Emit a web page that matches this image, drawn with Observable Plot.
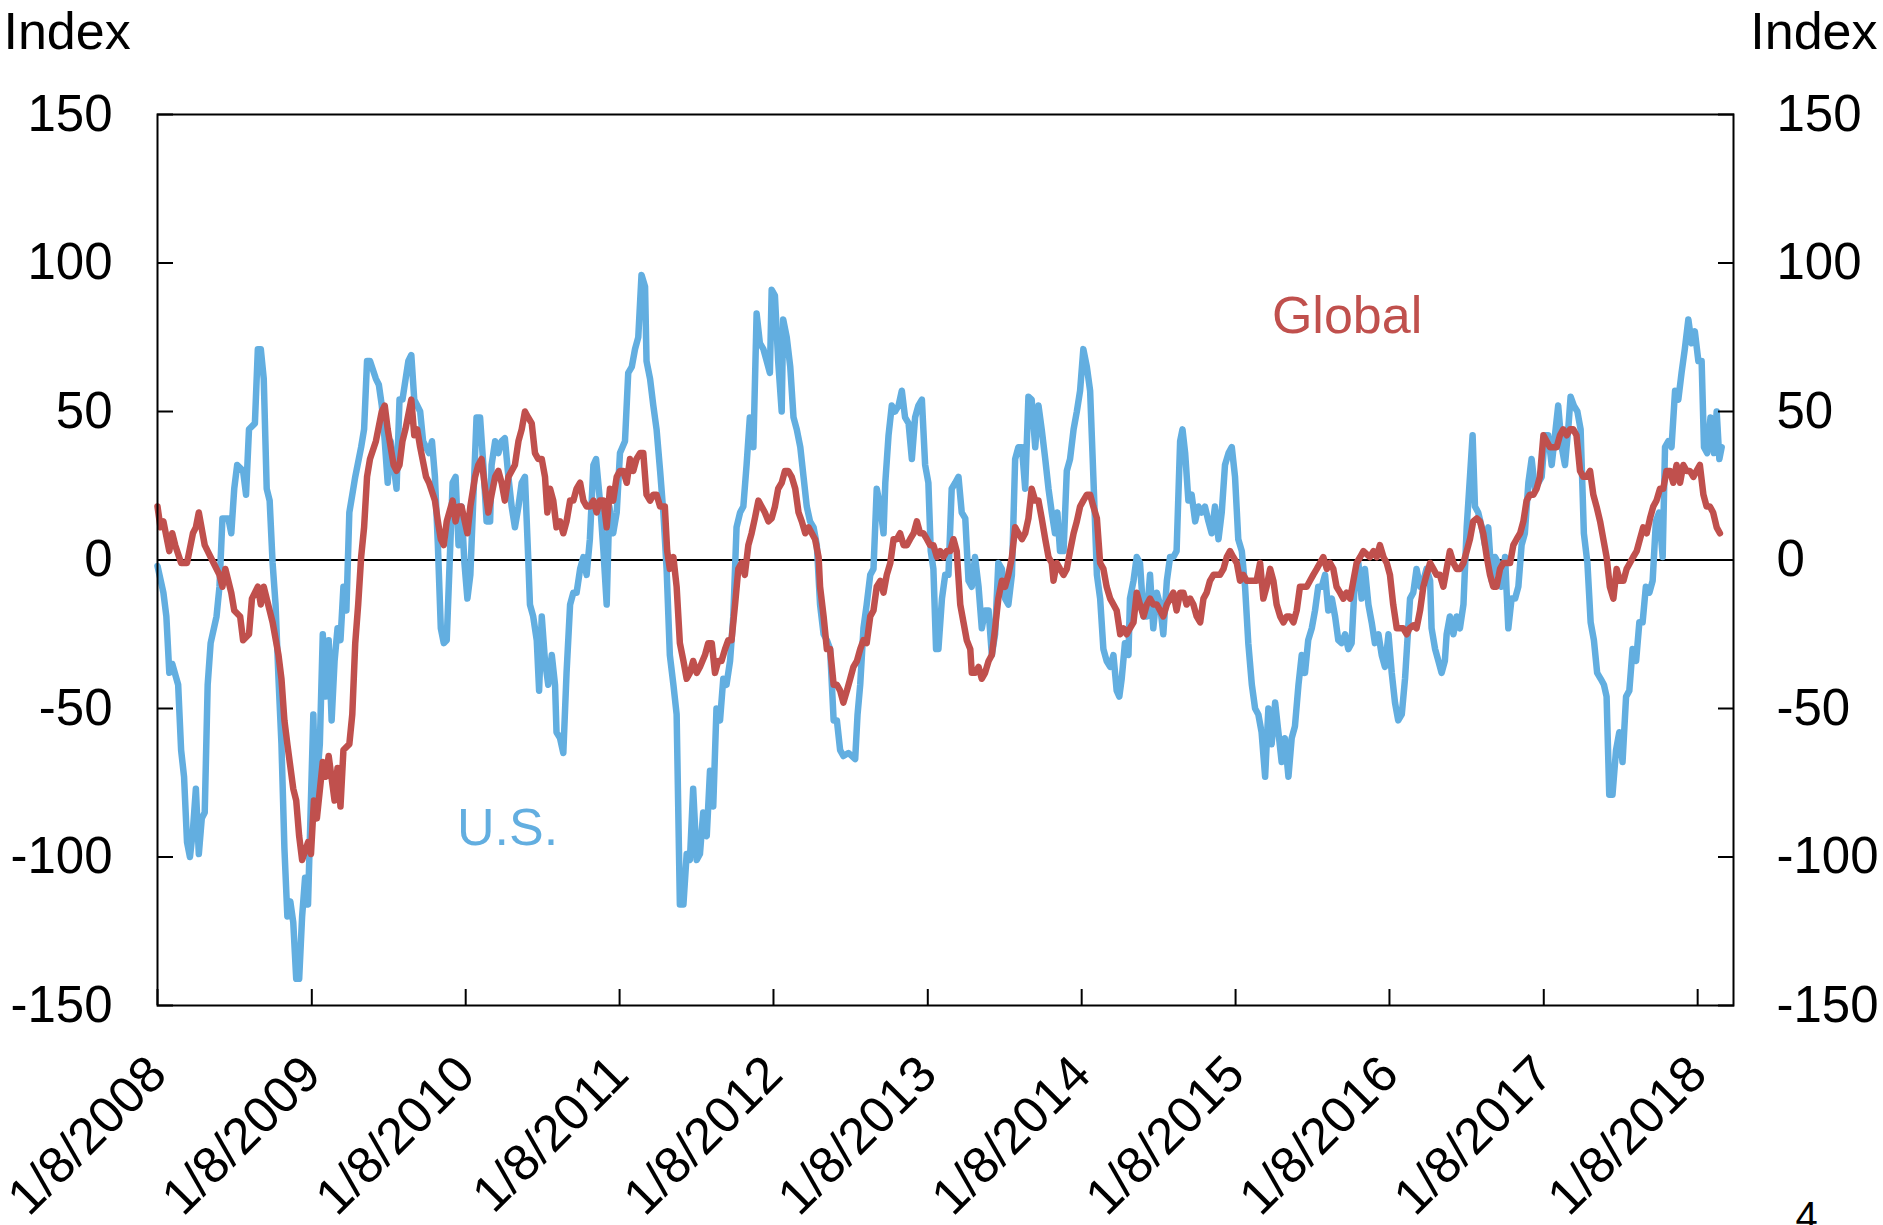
<!DOCTYPE html>
<html><head><meta charset="utf-8">
<script src="https://cdn.jsdelivr.net/npm/d3@7"></script>
<script src="https://cdn.jsdelivr.net/npm/@observablehq/plot@0.6"></script>
<style>html,body{margin:0;padding:0;background:#fff}svg{display:block}</style>
</head><body><div id="chart"></div>
<script>
// Weekly series: [weeks since 1/8/2008, index value]
const startDate = "2008-01-08";
const endDate = "2018-04-03";
const usPoints = [[0,-2],[2,-11],[3,-19],[4,-38],[5,-35],[7,-42],[8,-64],[9,-73],[10,-95],[11,-100],[12,-91],[13,-77],[14,-99],[15,-87],[16,-85],[17,-42],[18,-28],[20,-19],[21,-9],[22,14],[24,14],[25,9],[26,24],[27,32],[29,30],[30,22],[31,44],[33,46],[34,71],[35,71],[36,61],[37,24],[38,20],[39,-1],[40,-15],[41,-40],[42,-62],[43,-97],[44,-120],[45,-115],[46,-122],[47,-141],[48,-141],[49,-120],[50,-107],[51,-116],[52.8,-52],[53.5,-81],[55,-62],[56,-25],[57,-46],[58,-27],[59,-54],[60,-34],[61,-23],[62,-27],[63,-9],[64,-17],[65,16],[66,22],[67,28],[69,38],[70,44],[71,67],[72,67],[74,61],[75,59],[76,52],[77,40],[78,26],[79,40],[81,24],[82,54],[83,54],[85,67],[86,69],[87,54],[88,52],[89,50],[90,40],[92,36],[93,40],[94,28],[95,5],[96,-23],[97,-28],[98,-27],[100,26],[101,28],[102,5],[103,18],[104,-1],[105,-13],[106,-5],
[108.1,48],[109.3,48],[110.4,32],[111.5,13],[112.7,13],[113.2,32],[114.4,40],[115.5,36],[116.6,40],[117.7,41],[118.9,28],[120,18],[121.1,11],[122.3,18],[123.4,26],[124.5,28],[125.6,1],[126.2,-15],[127.3,-19],[128.5,-27],[129.3,-44],[130.2,-19],[131.3,-34],[132.4,-42],[133.6,-32],[134.7,-42],[135.2,-58],[136.4,-60],[137.5,-65],[138.6,-38],[139.8,-15],[140.9,-11],[142,-11],[143.2,-3],[144.3,1],[145.4,-5],[146.5,7],[147.7,32],[148.6,34],[149.9,20],[151.1,3],[152.2,-15],[153.1,18],[154.4,9],[155.6,16],[156.7,36],[158.4,40],[159.5,63],[160.7,65],[161.8,71],[162.9,75],[164,96],[165.2,92],[165.7,67],[166.9,61],[168,52],[169.1,44],[170.3,30],[171.4,16],[172.5,-3],[173.6,-32],[174.8,-42],[175.9,-52],[177,-116],[178.2,-116],[179.3,-99],[180.4,-101],[181.5,-77],[182.7,-101],[183.8,-99],[184.9,-85],[186.1,-93],[187.2,-71],[188.3,-83],[189.4,-50],[190.6,-54],[191.7,-40],[192.8,-42],[194,-34],[195.1,-19],[196.2,11],[197.4,16],[198.5,18],[199.6,32],[200.7,48],[201.9,38],[203,83],[204.1,73],[205.3,71],[206.4,67],[207.5,63],[208.1,91],[209.2,89],[210.3,67],[211.5,50],[212,81],[213.2,75],
[214.4,65],[215.5,48],[216.6,44],[217.8,38],[218.9,28],[220,18],[221.1,13],[222.3,11],[223.4,5],[224.5,-15],[225.7,-25],[226.8,-27],[227.9,-30],[229.1,-54],[230.2,-54],[231.3,-64],[232.4,-66],[234.1,-65],[235.3,-66],[236.4,-67],[237.2,-52],[238.1,-42],[239.2,-23],[240.3,-15],[241.5,-5],[242.6,-3],[243.7,24],[244.9,18],[246,9],[246.6,26],[247.7,42],[248.8,52],[249.9,50],[251.1,52],[252.2,57],[253.3,48],[254.5,46],[255.6,34],[256.7,48],[257.8,52],[259,54],[260.1,32],[261.2,26],[262,3],[262.9,-3],[263.8,-30],[264.6,-30],[265.8,-13],[266.9,-5],[268,-5],[269.1,24],[270.3,26],[271.4,28],[272.5,16],[273.7,14],[274.8,-7],[275.9,-9],[277,1],[278.2,-9],[279.3,-23],[280.4,-17],[281.6,-17],[282.7,-32],[283.8,-25],[284.9,-1],[286.1,-3],[287.2,-13],[288.3,-15],[289.5,-5],[290.6,34],[291.7,38],[292.9,38],[294,24],[295.1,55],[296.2,54],[297.4,38],[298.5,52],[299.6,44],[300.8,34],[301.9,24],[303,16],[304.1,9],[304.9,16],[305.8,3],[307,3],[308.1,30],[309.2,34],[310.4,44],[311.5,50],[312.6,57],[313.7,71],[314.9,65],[316,57],[317.1,28],[318.3,-5],
[319.4,-13],[320.5,-30],[321.6,-34],[322.8,-36],[323.9,-32],[325,-44],[325.9,-46],[326.7,-40],[327.8,-28],[329,-32],[329.5,-13],[330.7,-7],[331.8,1],[332.9,-1],[334.1,-19],[335.2,-19],[336.3,-5],[337.4,-23],[338.6,-11],[339.7,-15],[340.8,-25],[342,-7],[343.1,1],[344.2,1],[345.3,3],[346.5,40],[347.3,44],[348.2,36],[349.3,20],[350.4,22],[351.6,13],[352.7,18],[353.8,16],[354.9,18],[356.1,13],[357.2,9],[358.3,18],[359.5,7],[360.6,16],[361.7,32],[362.9,36],[364,38],[365.1,28],[366.2,7],[367.4,3],[368.5,-9],[369.6,-28],[370.8,-42],[371.9,-50],[373,-52],[374.1,-58],[375.3,-73],[376.4,-50],[377.5,-62],[378.7,-48],[379.8,-58],[380.9,-68],[382,-60],[383.2,-73],[384.3,-60],[385.4,-56],[386.6,-42],[387.7,-32],[388.8,-38],[389.9,-27],[391.1,-23],[392.2,-17],[393.3,-9],[394.5,-9],[395.6,-5],[396.7,-17],[397.9,-13],[399,-19],[400.1,-27],[401.2,-28],[402.4,-25],[403.5,-30],[404.6,-28],[405.8,-5],[406.9,-1],[408,-13],[409.1,-3],[410.3,-15],[411.4,-21],[412.5,-28],[413.7,-25],[414.8,-32],[415.9,-36],[417.1,-25],[418.2,-38],[419.3,-48],[420.4,-54],[421.6,-52],[422.7,-40],
[424.4,-13],[425.5,-11],[426.6,-3],[427.8,-9],[428.9,-7],[430,-3],[431.2,-7],[431.7,-23],[432.9,-30],[434,-34],[435.1,-38],[436.2,-34],[436.8,-25],[437.9,-19],[439.1,-25],[440.2,-19],[441.3,-23],[442.5,-15],[443.6,11],[444.7,28],[445.6,42],[446.4,18],[447.5,16],[448.7,11],[449.8,5],[450.9,11],[452.1,-7],[453.2,1],[454.3,-1],[455.4,-9],[456.6,1],[457.7,-23],[458.8,-13],[460,-13],[461.1,-9],[462.2,5],[463.3,9],[464.5,26],[465.6,34],[466.7,24],[467.9,26],[469,28],[470.1,42],[471.2,42],[472.4,32],[473.5,42],[474.6,52],[475.8,38],[476.9,32],[478,44],[478.8,55],[479.9,52],[481.1,50],[482.2,44],[483.3,9],[484.5,-1],[485.6,-21],[486.7,-27],[487.8,-38],[489,-40],[490.1,-42],[491,-46],[491.9,-79],[493,-79],[494.2,-64],[495.3,-58],[496.4,-68],[497.6,-46],[498.7,-44],[499.8,-30],[501,-34],[502.1,-21],[503.2,-21],[504.3,-9],[505.5,-11],[506.6,-7],[507.7,13],[508.8,16],[510,1],[510.8,38],[511.9,40],[513,38],[514.2,57],[515.3,54],[516.4,63],[517.5,71],[518.7,81],[519.8,73],[520.9,77],[522.1,67],[523.2,67],[524,38],[525.1,36],[526.2,48],[527.4,36],[528.3,50],[529.2,34],[530,38]];

const globalPoints = [[0,18],[1,11],[2,13],[4,3],[5,9],[6,5],[8,-1],[10,-1],[12,9],[13,11],[14,16],[16,5],[17,3],[19,-1],[21,-5],[22,-9],[23,-3],[25,-11],[26,-17],[28,-19],[29,-27],[31,-25],[32,-13],[34,-9],[35,-15],[36,-9],[38,-17],[39,-21],[41,-32],[42,-40],[43,-54],[44,-62],[46,-77],[47,-81],[48,-93],[49,-101],[51,-95],[52,-99],[53,-81],[54,-87],[56,-68],[57,-73],[58,-66],[60,-81],[61,-70],[62,-83],[63,-64],[65,-62],[66,-52],[67,-28],[68,-15],[69,1],[70,11],[71,28],[72,34],[74,40],[76,50],[77,52],[78,44],[80,32],[81,30],[82,32],[83,40],[84,44],[86,54],[87,42],[88,44],[89,38],[91,28],[92,26],[94,20],[95,13],[96,7],[97,5],[98,13],[100,20],[101,13],[102,18],[103,18],[105,9],[106,18],
[107.6,28],[108.7,32],[109.8,34],[111,24],[112.1,16],[113.2,22],[114.4,28],[115.5,30],[116.6,26],[117.7,20],[118.9,28],[120,30],[121.1,32],[122.3,40],[123.4,44],[124.5,50],[125.6,48],[126.8,46],[127.9,36],[129,34],[130.2,34],[131.3,28],[132.1,16],[133,24],[134.1,20],[135.2,11],[136.4,13],[137.5,9],[138.6,13],[139.8,20],[140.9,20],[142,24],[143.2,26],[144.3,20],[145.4,18],[146.5,18],[147.7,20],[148.8,16],[149.9,20],[151.1,20],[152.2,11],[153.3,24],[154.4,20],[155.6,28],[156.7,30],[157.8,30],[159,26],[160.1,34],[161.2,30],[162.3,34],[163.5,36],[164.6,36],[165.7,22],[166.9,20],[168,22],[169.1,22],[170.3,18],[171.9,18],[172.7,3],[173.6,-3],[174.8,1],[175.9,-9],[177,-28],[178.2,-34],[179.3,-40],[180.4,-38],[181.5,-34],[182.7,-38],[183.8,-36],[185.5,-32],[186.6,-28],[187.8,-28],[188.9,-38],[190,-34],[191.1,-34],[192.3,-30],[193.4,-27],[194.5,-27],[195.7,-15],[196.8,-3],[197.9,-1],[199,-5],[200.2,5],[201.3,9],[202.4,14],[203.6,20],[204.7,18],[205.8,16],[207,13],[208.1,14],[209.2,18],[210.3,24],[211.5,26],[212.6,30],[213.7,30],
[214.9,28],[216.1,24],[217.2,16],[218.3,13],[219.5,9],[220.6,11],[221.7,9],[222.8,7],[224,1],[224.5,-9],[225.7,-19],[226.8,-30],[227.9,-30],[229.1,-42],[230.2,-42],[231.3,-44],[232.4,-48],[233.6,-44],[234.7,-40],[235.8,-36],[237,-34],[238.1,-30],[239.2,-27],[240.3,-28],[241.5,-19],[242.6,-17],[243.7,-9],[244.9,-7],[246,-11],[247.1,-5],[248.3,-1],[249.4,7],[250.5,7],[251.6,9],[252.8,5],[253.9,5],[255,7],[256.2,9],[257.3,13],[258.4,9],[259.5,9],[260.7,7],[261.8,5],[262.9,5],[264.1,1],[265.2,3],[266.3,1],[267.4,3],[268.6,3],[269.7,7],[270.8,3],[272,-15],[273.1,-21],[274.2,-27],[275.4,-30],[275.9,-38],[277,-38],[278.2,-36],[279.3,-40],[280.4,-38],[281.6,-34],[282.7,-32],[283.8,-23],[284.9,-13],[286.1,-7],[287.2,-9],[288.3,-5],[289.5,1],[290.6,11],[291.7,9],[292.9,7],[294,9],[295.1,14],[296.2,24],[297.4,20],[298.5,20],[299.6,14],[300.8,7],[301.9,1],[303,-1],[303.6,-7],[304.7,-1],[305.8,-3],[307,-5],[308.1,-3],[309.2,3],[310.4,9],[311.5,13],[312.6,18],[313.7,20],[314.9,22],[316,22],[317.1,18],[318.3,14],
[319.4,-1],[320.5,-3],[321.6,-9],[322.8,-13],[323.9,-15],[325,-17],[326.2,-25],[327.3,-23],[328.4,-25],[329.5,-23],[330.7,-21],[331.8,-11],[332.9,-15],[334.1,-19],[335.2,-15],[336.3,-13],[337.4,-15],[338.6,-15],[339.7,-17],[340.8,-19],[342,-15],[343.1,-13],[344.2,-11],[345.3,-17],[346.5,-11],[347.6,-11],[348.7,-15],[349.9,-13],[351,-15],[352.1,-19],[353.3,-21],[354.4,-13],[355.5,-11],[356.6,-7],[357.8,-5],[358.9,-5],[360,-5],[361.2,-3],[362.3,1],[363.4,3],[364.5,1],[365.7,-1],[366.8,-7],[367.9,-5],[369.1,-7],[370.2,-7],[371.3,-7],[372.4,-7],[373.6,-1],[374.7,-13],[375.8,-9],[377,-3],[378.1,-7],[379.2,-15],[380.4,-19],[381.5,-21],[382.6,-19],[383.7,-19],[384.9,-21],[386,-17],[387.1,-9],[388.3,-9],[389.4,-9],[390.5,-7],[391.6,-5],[392.8,-3],[393.9,-1],[395,1],[396.2,-3],[397.3,-1],[398.4,-3],[399.5,-9],[400.7,-11],[401.8,-13],[402.9,-11],[404.1,-13],[405.2,-7],[406.3,-1],[407.5,1],[408.6,3],[409.7,2],[410.8,1],[412,3],[413.1,1],[414.2,5],[415.4,1],[416.5,-1],[417.6,-5],[418.7,-15],[419.9,-23],[421,-23],[422.1,-23],[423.3,-25],[424.2,-23],
[425.5,-22],[426.6,-23],[427.8,-17],[428.9,-9],[430,-5],[431.2,-1],[432.3,-3],[433.4,-5],[434.5,-5],[435.7,-9],[436.8,-3],[437.9,3],[439.1,-1],[440.2,-3],[441.3,-3],[442.5,-1],[443.6,3],[444.7,7],[445.8,13],[447,14],[448.1,13],[449.2,9],[450.4,1],[451.5,-5],[452.6,-9],[453.7,-9],[454.9,-3],[456,-1],[457.1,-1],[458.3,-1],[459.4,5],[460.5,7],[461.7,9],[462.8,13],[463.9,20],[465,22],[466.2,22],[467.3,24],[468.4,28],[469.6,42],[470.7,40],[471.8,38],[473,38],[474.1,38],[475.2,42],[476.3,44],[477.5,42],[478.6,44],[479.7,44],[480.8,42],[482,30],[483.1,28],[484.2,28],[485.4,30],[486.5,22],[487.6,18],[488.8,13],[489.9,7],[491,1],[492.1,-9],[493.3,-13],[494.4,-3],[495.5,-7],[496.7,-7],[497.8,-3],[498.9,-1],[500,1],[501.2,3],[502.3,7],[503.4,11],[504.6,9],[505.7,14],[506.8,18],[507.9,20],[509.1,24],[510.2,24],[511.3,30],[512.5,30],[513.6,26],[514.7,32],[515.9,26],[517,32],[518.1,30],[519.2,30],[520.4,28],[521.5,30],[522.6,32],[523.8,22],[524.9,18],[526,18],[527.1,16],[528.3,11],[529.4,9]];

const yTicks = [-150, -100, -50, 0, 50, 100, 150];
const xTickYears = [2008, 2009, 2010, 2011, 2012, 2013, 2014, 2015, 2016, 2017, 2018];
const seriesNames = ["U.S.", "Global"];
const seriesColors = ["#62aee0", "#c0504d"];
const labelAt = [{name: "U.S.", week: 101.5, value: -96}, {name: "Global", week: 377.6, value: 76.5}];

const t0 = Date.UTC(2008, 0, 8);
const weekToDate = w => new Date(t0 + w * 7 * 864e5);
const toRows = (pts, series) => pts.map(([w, v]) => ({date: weekToDate(w), value: v, series}));
const usRows = toRows(usPoints, seriesNames[0]);
const globalRows = toRows(globalPoints, seriesNames[1]);
const xTicks = xTickYears.map(y => new Date(Date.UTC(y, 0, 8)));
const fmt = d => `${d.getUTCMonth() + 1}/${d.getUTCDate()}/${d.getUTCFullYear()}`;
const yFmt = d => String(d);
const font = "Liberation Sans, Arial, Helvetica, sans-serif";

const chart = Plot.plot({
  width: 1883,
  height: 1225,
  marginTop: 114,
  marginBottom: 220,
  marginLeft: 157,
  marginRight: 150,
  style: {fontFamily: font, fontSize: "51px", color: "black", background: "white"},
  x: {type: "utc", domain: [new Date(startDate), new Date(endDate)], axis: null},
  y: {domain: [-150, 150], axis: null},
  marks: [
    Plot.ruleY([0], {stroke: "black", strokeWidth: 2}),
    Plot.line(usRows, {x: "date", y: "value", stroke: seriesColors[0], strokeWidth: 6.5, strokeLinejoin: "round", strokeLinecap: "round"}),
    Plot.line(globalRows, {x: "date", y: "value", stroke: seriesColors[1], strokeWidth: 6.5, strokeLinejoin: "round", strokeLinecap: "round"}),
    Plot.frame({stroke: "black", strokeWidth: 2}),
    Plot.axisY(yTicks, {anchor: "left", label: null, tickSize: 16, dx: 16, tickPadding: 45, tickFormat: yFmt, strokeWidth: 2, fontSize: 51, fontVariant: "normal"}),
    Plot.axisY(yTicks, {anchor: "right", label: null, tickSize: 16, dx: -16, tickPadding: 43, tickFormat: yFmt, strokeWidth: 2, fontSize: 51, fontVariant: "normal"}),
    Plot.axisX(xTicks, {anchor: "bottom", label: null, tickSize: 16, dy: -16, tickPadding: 60, tickRotate: -45, tickFormat: fmt, strokeWidth: 2, fontSize: 51, fontVariant: "normal"}),
    Plot.text(labelAt, {x: d => weekToDate(d.week), y: "value", text: "name", fill: (d, i) => seriesColors[i], textAnchor: "start", lineAnchor: "bottom", fontSize: 52}),
    Plot.text(["Index"], {frameAnchor: "top-left", dx: -154, dy: -66, textAnchor: "start", lineAnchor: "bottom", fontSize: 52}),
    Plot.text(["Index"], {frameAnchor: "top-right", dx: 144, dy: -66, textAnchor: "end", lineAnchor: "bottom", fontSize: 52}),
    Plot.text(["4"], {frameAnchor: "bottom-right", dx: 62, dy: 224, textAnchor: "start", lineAnchor: "bottom", fontSize: 40})
  ]
});
document.getElementById("chart").appendChild(chart);
</script>
</body></html>
